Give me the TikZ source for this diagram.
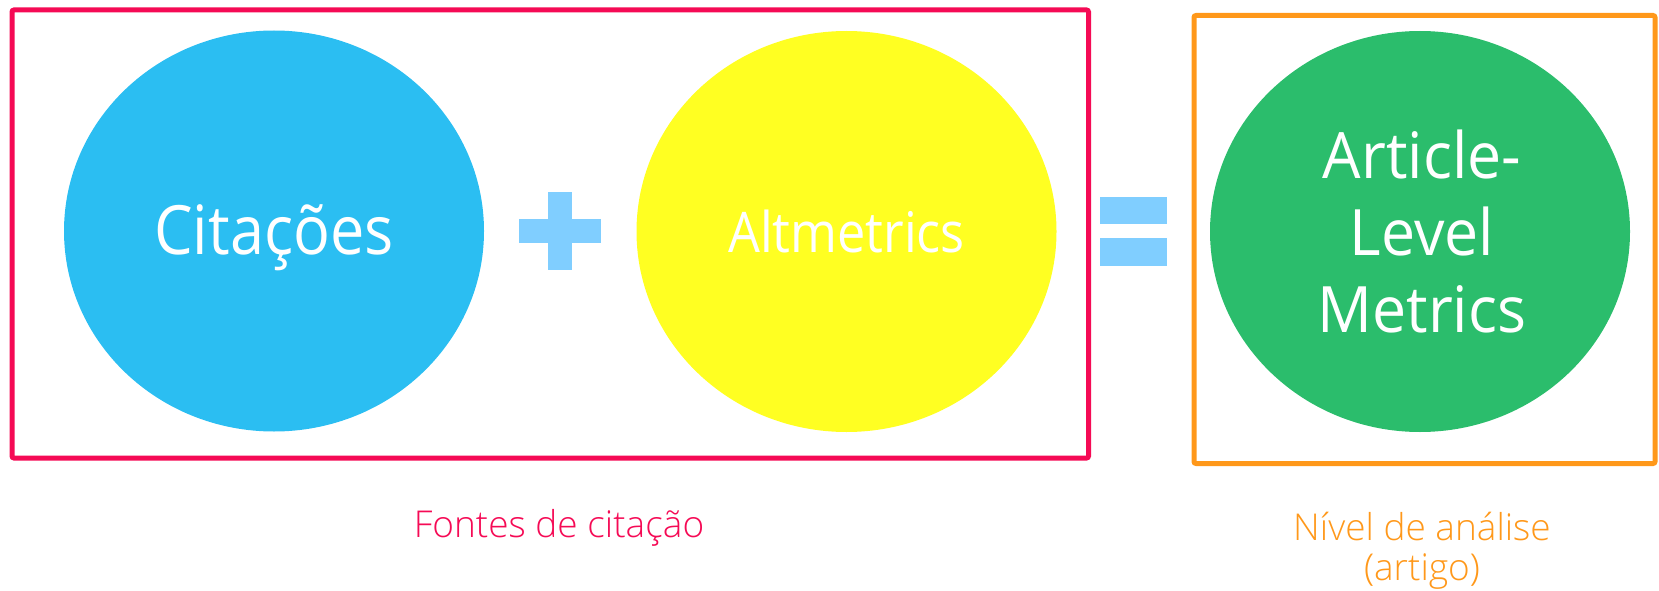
\documentclass[tikz,border=0pt]{standalone}
\usepackage{fontspec}
\setmainfont{Open Sans}
\newfontfamily\lightf{Open Sans Light}
\newfontfamily\narrowf{Open Sans}[FakeStretch=0.9]
\newfontfamily\semif{Open Sans}[FakeStretch=0.95]
\usetikzlibrary{shapes.geometric}
\definecolor{cblue}{RGB}{43,190,242}
\definecolor{cyellow}{RGB}{255,255,34}
\definecolor{cgreen}{RGB}{43,189,108}
\definecolor{cred}{RGB}{245,10,85}
\definecolor{corange}{RGB}{255,152,26}
\definecolor{csign}{RGB}{128,206,255}
\tikzset{
  blob/.style={ellipse, minimum width=420pt, minimum height=401pt, inner sep=0pt, draw=none},
  bigtext/.style={text=white, anchor=base, inner sep=0pt},
  frame/.style={line width=5pt, rounded corners=2pt},
  label/.style={anchor=base, inner sep=0pt, font=\lightf\fontsize{37}{40}\selectfont},
  sign/.style={fill=csign, draw=none}
}
\begin{document}
\begin{tikzpicture}[x=1pt,y=-1pt]
\useasboundingbox (0,0) rectangle (1659,591);
% frames
\draw[frame, draw=cred] (12,10) rectangle (1088.5,458);
\draw[frame, draw=corange] (1194,15.5) rectangle (1655,463.5);
% ellipses
\node[blob, fill=cblue] (cit) at (274,231) {};
\node[blob, fill=cyellow] (alt) at (846.5,231.5) {};
\node[blob, fill=cgreen] (alm) at (1420,231.5) {};
% texts
\node[bigtext, font=\narrowf\fontsize{68}{68}\selectfont] (citt) at (274,254) {Citações};
\node[bigtext, font=\narrowf\fontsize{56}{56}\selectfont] (altt) at (846.5,252) {Altmetrics};
\node[bigtext, font=\semif\fontsize{64}{64}\selectfont] (alm1) at (1422,178) {Article-};
\node[bigtext, font=\semif\fontsize{64}{64}\selectfont] (alm2) at (1422,255) {Level};
\node[bigtext, font=\semif\fontsize{64}{64}\selectfont] (alm3) at (1422,332) {Metrics};
% plus
\fill[sign] (548,192) rectangle (572,270);
\fill[sign] (519,219) rectangle (601,243);
% equals
\fill[sign] (1100,197) rectangle (1167,224);
\fill[sign] (1100,238) rectangle (1167,266);
% labels
\node[label, text=cred] (fontes) at (559,537) {Fontes de citação};
\node[label, text=corange] (nivel) at (1422,540) {Nível de análise};
\node[label, text=corange] (artigo) at (1422,580) {(artigo)};
\end{tikzpicture}
\end{document}
